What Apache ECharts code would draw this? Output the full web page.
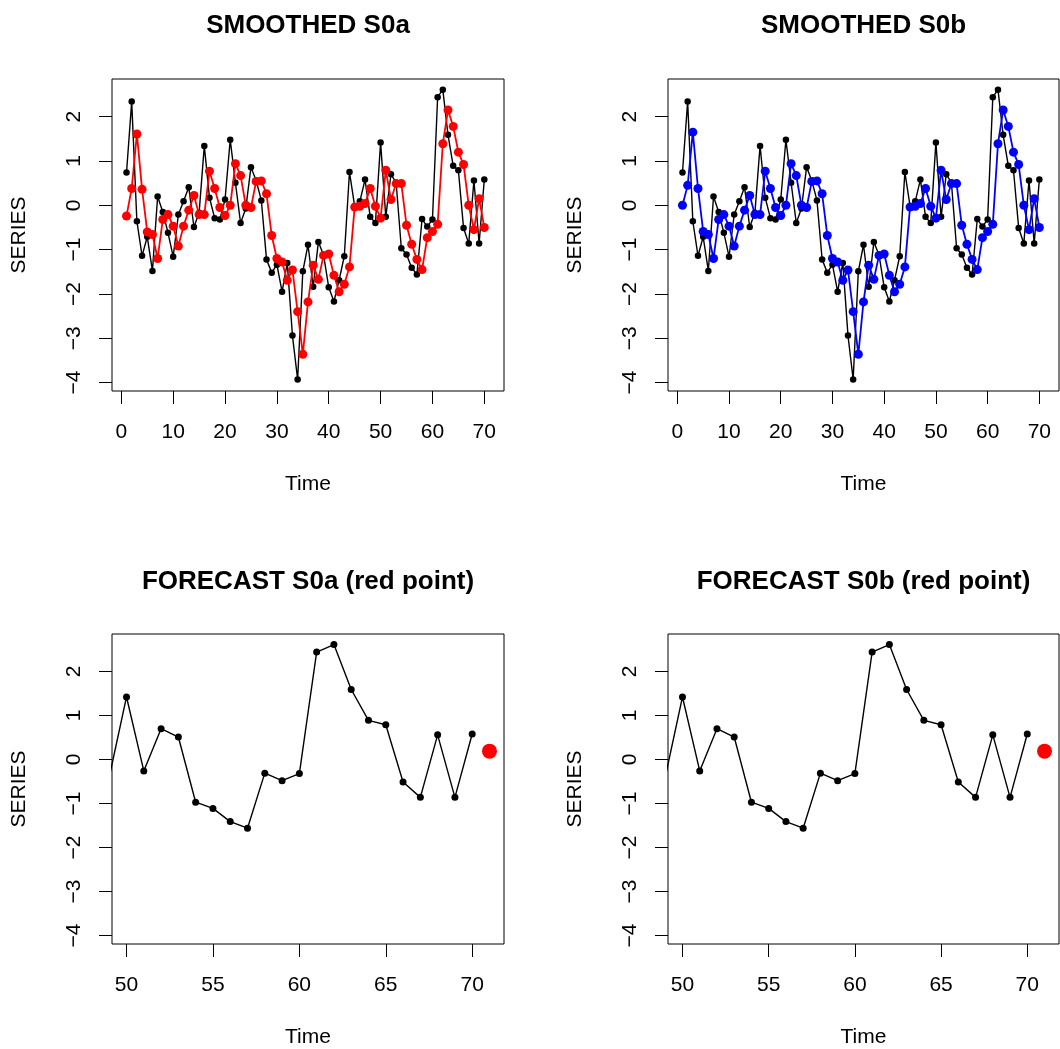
<!DOCTYPE html>
<html lang="en">
<head>
    <meta charset="UTF-8">
    <title>Smoothed and forecast S0a / S0b</title>
    <script src="https://cdn.jsdelivr.net/npm/echarts@6/dist/echarts.min.js"></script>
    <style>
        html, body { margin: 0; padding: 0; background: #fff; }
    </style>
</head>
<body>
    <div id="main" style="width: 1060px; height: 1049px;"></div>
    <script>
        // observed series, t = 1..70
        const series = [
            0.74, 2.34, -0.36, -1.14, -0.71, -1.48, 0.20, -0.15, -0.62, -1.16,
            -0.21, 0.09, 0.41, -0.49, -0.17, 1.34, 0.17, -0.29, -0.32, 0.13,
            1.48, 0.51, -0.40, -0.07, 0.86, 0.56, 0.11, -1.22, -1.52, -1.34,
            -1.95, -1.30, -2.94, -3.93, -1.49, -0.89, -1.84, -0.83, -1.12, -1.85,
            -2.17, -1.69, -1.15, 0.75, -0.02, 0.09, 0.58, -0.26, -0.40, 1.42,
            -0.26, 0.70, 0.51, -0.97, -1.11, -1.41, -1.56, -0.31, -0.48, -0.32,
            2.44, 2.61, 1.59, 0.89, 0.79, -0.51, -0.86, 0.56, -0.86, 0.58
        ]
        // smoothed with initial state S0a
        const smoothA = [
            -0.24, 0.38, 1.61, 0.36, -0.60, -0.66, -1.20, -0.32, -0.21, -0.47,
            -0.92, -0.47, -0.11, 0.22, -0.21, -0.21, 0.77, 0.38, -0.05, -0.23,
            0.00, 0.94, 0.67, 0.00, -0.05, 0.54, 0.55, 0.26, -0.68, -1.20,
            -1.28, -1.69, -1.46, -2.40, -3.36, -2.18, -1.35, -1.67, -1.13, -1.10,
            -1.58, -1.95, -1.78, -1.39, -0.04, -0.02, 0.04, 0.38, -0.02, -0.29,
            0.79, 0.13, 0.49, 0.49, -0.45, -0.88, -1.22, -1.45, -0.73, -0.59,
            -0.43, 1.39, 2.15, 1.78, 1.20, 0.92, 0.00, -0.55, 0.15, -0.50
        ]
        // smoothed with initial state S0b
        const smoothB = [
            0.00, 0.45, 1.65, 0.38, -0.59, -0.66, -1.20, -0.32, -0.21, -0.47,
            -0.92, -0.47, -0.11, 0.22, -0.21, -0.21, 0.77, 0.38, -0.05, -0.23,
            0.00, 0.94, 0.67, 0.00, -0.05, 0.54, 0.55, 0.26, -0.68, -1.20,
            -1.28, -1.69, -1.46, -2.40, -3.36, -2.18, -1.35, -1.67, -1.13, -1.10,
            -1.58, -1.95, -1.78, -1.39, -0.04, -0.02, 0.04, 0.38, -0.02, -0.29,
            0.79, 0.13, 0.49, 0.49, -0.45, -0.88, -1.22, -1.45, -0.73, -0.59,
            -0.43, 1.39, 2.15, 1.78, 1.20, 0.92, 0.00, -0.55, 0.15, -0.50
        ]
        const forecastA = [71, 0.19]
        const forecastB = [71, 0.19]
        const firstZoomT = 49

        const yTicks = [-4, -3, -2, -1, 0, 1, 2]
        const xTicksFull = [0, 10, 20, 30, 40, 50, 60, 70]
        const xTicksZoom = [50, 55, 60, 65, 70]
        const titles = ['SMOOTHED S0a', 'SMOOTHED S0b', 'FORECAST S0a (red point)', 'FORECAST S0b (red point)']

        const FONT = "'Liberation Sans', Arial, Helvetica, sans-serif"

        function pairs (values, startT) {
            return values.map((v, i) => [startT + i, v])
        }

        function init () {
            const myChart = echarts.init(document.getElementById('main'), null, { renderer: 'canvas' })

            // plot boxes (pixels)
            const boxes = [
                { left: 112, top: 79, width: 392, height: 312 },
                { left: 668, top: 79, width: 391, height: 312 },
                { left: 112, top: 634, width: 392, height: 313 },
                { left: 668, top: 634, width: 391, height: 313 }
            ]
            const minus = v => String(v).replace('-', '\u2212')

            const grid = boxes.map(b => ({
                left: b.left, top: b.top, width: b.width, height: b.height,
                show: true, borderColor: '#000', borderWidth: 1, backgroundColor: 'transparent'
            }))

            const xAxis = boxes.map((b, i) => {
                const full = i < 2
                return {
                    type: 'value',
                    gridIndex: i,
                    position: 'bottom',
                    min: full ? -1.8 : 49.16,
                    max: full ? 73.8 : 71.84,
                    name: 'Time',
                    nameLocation: 'middle',
                    nameGap: 83,
                    nameTextStyle: { color: '#000', fontSize: 21, fontFamily: FONT },
                    axisLine: { show: false, onZero: false },
                    splitLine: { show: false },
                    axisTick: {
                        show: true, length: 13, lineStyle: { color: '#000', width: 1 },
                        customValues: full ? xTicksFull : xTicksZoom
                    },
                    axisLabel: {
                        color: '#000', fontSize: 21, fontFamily: FONT, margin: 31,
                        customValues: full ? xTicksFull : xTicksZoom
                    }
                }
            })

            const yAxis = boxes.map((b, i) => ({
                type: 'value',
                gridIndex: i,
                position: 'left',
                min: -4.19,
                max: 2.85,
                name: 'SERIES',
                nameLocation: 'middle',
                nameGap: 82,
                nameRotate: 90,
                nameTextStyle: { color: '#000', fontSize: 21, fontFamily: FONT },
                axisLine: { show: false, onZero: false },
                splitLine: { show: false },
                axisTick: {
                    show: true, length: 13, lineStyle: { color: '#000', width: 1 },
                    customValues: yTicks
                },
                axisLabel: {
                    color: '#000', fontSize: 21, fontFamily: FONT, margin: 27, rotate: 90,
                    formatter: minus,
                    customValues: yTicks
                }
            }))

            // the title box adds its padding on the left, so pull it back
            const title = titles.map((t, i) => ({
                text: t,
                left: boxes[i].left + boxes[i].width / 2 - 5,
                top: boxes[i].top - (i < 2 ? 71 : 70),
                textAlign: 'center',
                textStyle: { color: '#000', fontSize: 26, fontWeight: 'bold', fontFamily: FONT }
            }))

            const blackLine = (data, idx, size) => ({
                type: 'line',
                xAxisIndex: idx, yAxisIndex: idx,
                data,
                symbol: 'circle',
                symbolSize: size,
                itemStyle: { color: '#000' },
                lineStyle: { color: '#000', width: 1.4 },
                clip: true,
                z: 2
            })
            const colourLine = (data, idx, colour) => ({
                type: 'line',
                xAxisIndex: idx, yAxisIndex: idx,
                data,
                symbol: 'circle',
                symbolSize: 9,
                itemStyle: { color: colour },
                lineStyle: { color: colour, width: 1.8 },
                clip: true,
                z: 3
            })
            const forecastDot = (point, idx) => ({
                type: 'scatter',
                xAxisIndex: idx, yAxisIndex: idx,
                data: [point],
                symbolSize: 15,
                itemStyle: { color: '#ff0000', opacity: 1 },
                z: 3
            })
            const zoomed = series.slice(firstZoomT - 1)

            const option = {
                animation: false,
                backgroundColor: '#fff',
                title,
                grid,
                xAxis,
                yAxis,
                series: [
                    blackLine(pairs(series, 1), 0, 6.5),
                    colourLine(pairs(smoothA, 1), 0, '#ff0000'),
                    blackLine(pairs(series, 1), 1, 6.5),
                    colourLine(pairs(smoothB, 1), 1, '#0000ff'),
                    blackLine(pairs(zoomed, firstZoomT), 2, 7),
                    forecastDot(forecastA, 2),
                    blackLine(pairs(zoomed, firstZoomT), 3, 7),
                    forecastDot(forecastB, 3)
                ]
            }

            myChart.setOption(option)
        }

        init()
    </script>
</body>
</html>
